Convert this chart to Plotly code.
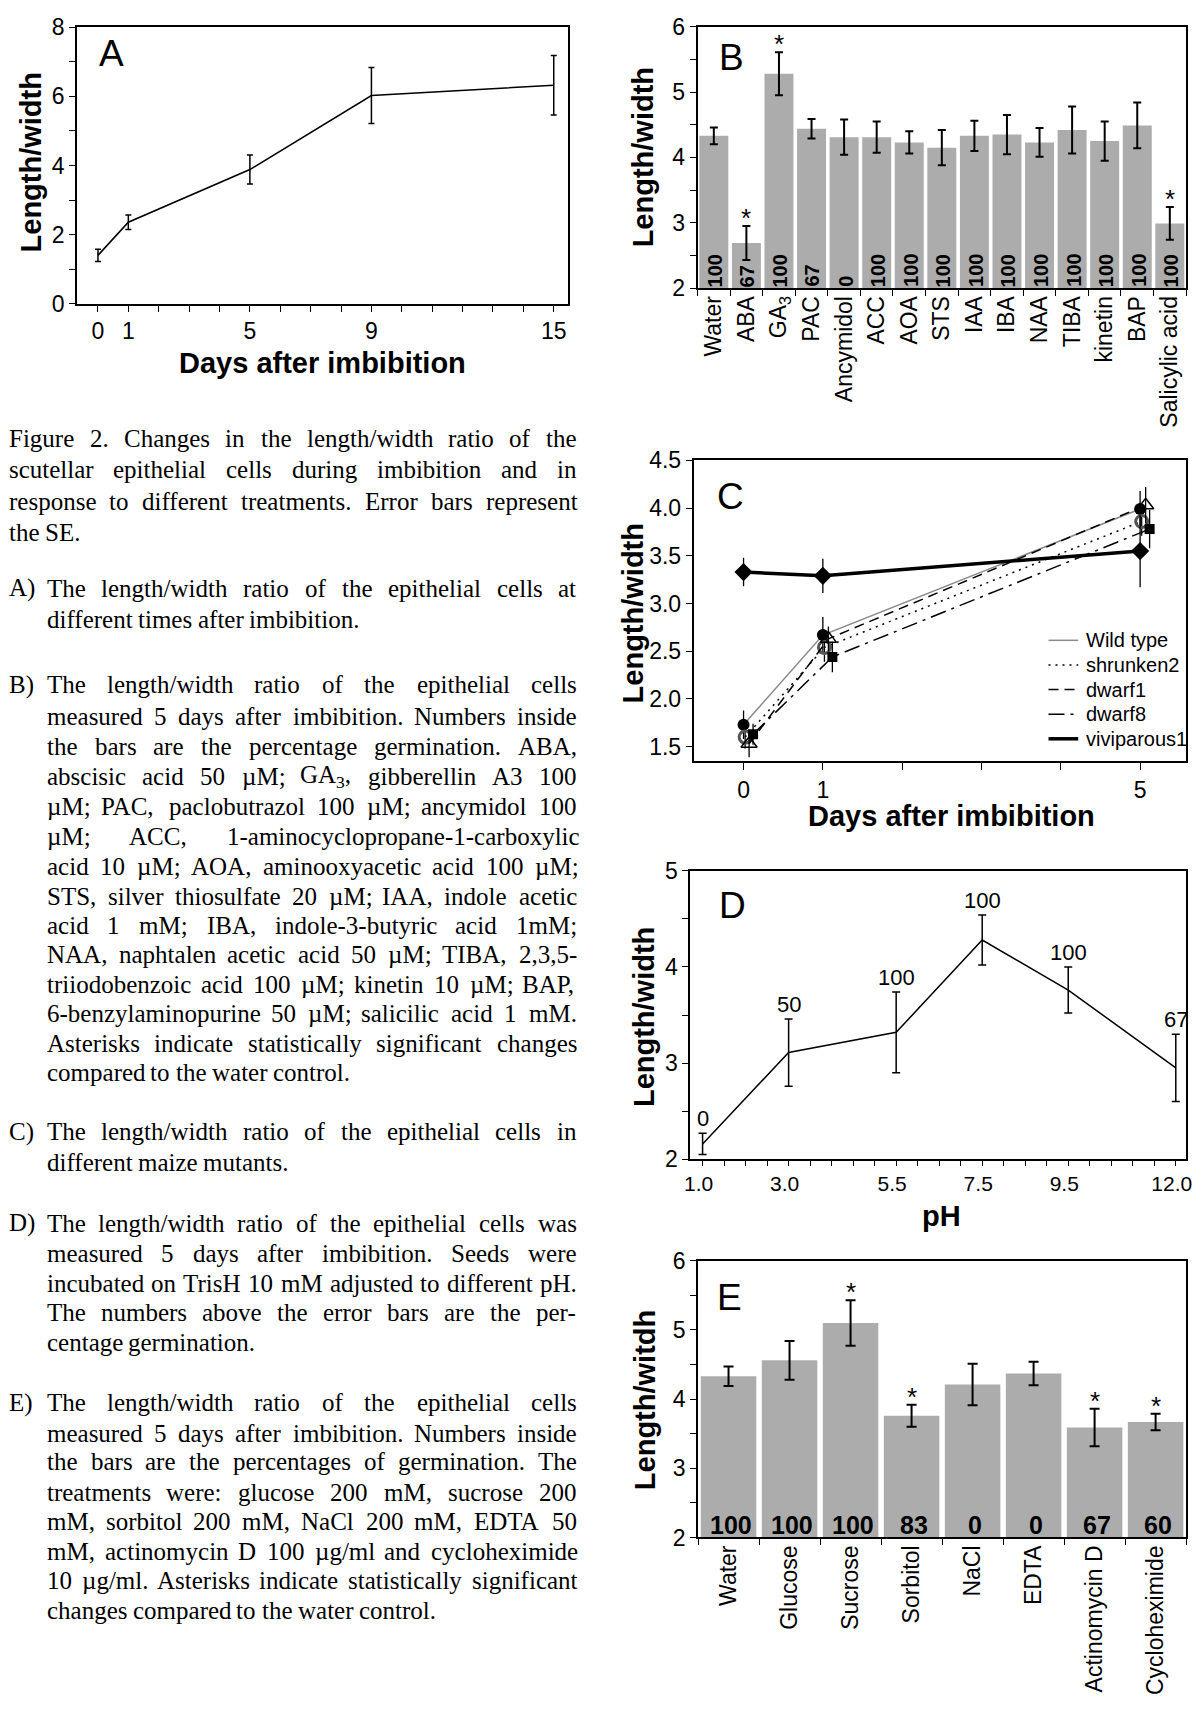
import re
import plotly.graph_objects as go

W, H = 1203, 1711
SANS = "Liberation Sans, Arial, sans-serif"
SERIF = "Liberation Serif, Times New Roman, serif"

# ---------------- Panel A ----------------
a_days = [0, 1, 5, 9, 15]
a_ratio = [1.40, 2.36, 3.88, 6.02, 6.32]
a_se = [0.18, 0.21, 0.42, 0.81, 0.86]
a_xticks = list(range(0, 16))
a_xlabels = ["0", "1", "", "", "", "5", "", "", "", "9", "", "", "", "", "", "15"]
a_yticks = list(range(0, 9))
a_ylabels = ["0", "", "2", "", "4", "", "6", "", "8"]

# ---------------- Panel B ----------------
b_treat = ["Water", "ABA", "GA<sub>3</sub>", "PAC", "Ancymidol", "ACC", "AOA", "STS",
           "IAA", "IBA", "NAA", "TIBA", "kinetin", "BAP", "Salicylic acid"]
b_ratio = [4.33, 2.69, 5.28, 4.44, 4.31, 4.31, 4.23, 4.15, 4.33, 4.35, 4.23, 4.42, 4.25, 4.49, 2.99]
b_se = [0.13, 0.26, 0.33, 0.15, 0.27, 0.24, 0.17, 0.27, 0.23, 0.30, 0.22, 0.36, 0.30, 0.35, 0.25]
b_germ = [100, 67, 100, 67, 0, 100, 100, 100, 100, 100, 100, 100, 100, 100, 100]
b_signif = [False, True, True, False, False, False, False, False,
            False, False, False, False, False, False, True]
b_yticks = [2, 2.5, 3, 3.5, 4, 4.5, 5, 5.5, 6]
b_ylabels = ["2", "", "3", "", "4", "", "5", "", "6"]

# ---------------- Panel C ----------------
c_days = [0, 1, 5]
c_names = ["Wild type", "shrunken2", "dwarf1", "dwarf8", "viviparous1"]
c_wt = [1.73, 2.67, 3.99]
c_wt_se = [0.15, 0.19, 0.19]
c_sh2 = [1.60, 2.54, 3.86]
c_sh2_se = [0.12, 0.15, 0.15]
c_d1 = [1.53, 2.63, 4.03]
c_d1_se = [0.14, 0.13, 0.19]
c_d8 = [1.63, 2.44, 3.78]
c_d8_se = [0.11, 0.16, 0.20]
c_vp1 = [3.33, 3.29, 3.55]
c_vp1_se = [0.15, 0.18, 0.38]
c_xticks = [0, 1, 2, 3, 4, 5]
c_xlabels = ["0", "1", "", "", "", "5"]
c_yticks = [1.5, 2.0, 2.5, 3.0, 3.5, 4.0, 4.5]
c_ylabels = ["1.5", "2.0", "2.5", "3.0", "3.5", "4.0", "4.5"]

# ---------------- Panel D ----------------
d_ph = [1.0, 3.0, 5.5, 7.5, 9.5, 12.0]
d_ratio = [2.16, 3.11, 3.32, 4.28, 3.76, 2.95]
d_se = [0.11, 0.35, 0.42, 0.26, 0.24, 0.35]
d_germ = [0, 50, 100, 100, 100, 67]
d_xticks = [1.0, 1.5, 2.0, 2.5, 3.0, 3.5, 4.0, 4.5, 5.0, 5.5, 6.0, 6.5, 7.0, 7.5, 8.0,
            8.5, 9.0, 9.5, 10.0, 10.5, 11.0, 11.5, 12.0]
d_xlabel_at = {1.0: "1.0", 3.0: "3.0", 5.5: "5.5", 7.5: "7.5", 9.5: "9.5", 12.0: "12.0"}
d_yticks = [2, 2.5, 3, 3.5, 4, 4.5, 5]
d_ylabels = ["2", "", "3", "", "4", "", "5"]

# ---------------- Panel E ----------------
e_treat = ["Water", "Glucose", "Sucrose", "Sorbitol", "NaCl", "EDTA", "Actinomycin D", "Cycloheximide"]
e_ratio = [4.33, 4.56, 5.10, 3.76, 4.21, 4.37, 3.59, 3.67]
e_se = [0.14, 0.28, 0.33, 0.16, 0.30, 0.17, 0.27, 0.12]
e_germ = [100, 100, 100, 83, 0, 0, 67, 60]
e_signif = [False, False, True, True, False, False, True, True]
e_yticks = [2, 2.5, 3, 3.5, 4, 4.5, 5, 5.5, 6]
e_ylabels = ["2", "", "3", "", "4", "", "5", "", "6"]

# ---------------- Caption ----------------
cap_paragraphs = [
    ("", ["Figure 2. Changes in the length/width ratio of the",
          "scutellar epithelial cells during imbibition and in",
          "response to different treatments. Error bars represent",
          "the SE."]),
    ("A)", ["The length/width ratio of the epithelial cells at",
            "different times after imbibition."]),
    ("B)", ["The length/width ratio of the epithelial cells",
            "measured 5 days after imbibition. Numbers inside",
            "the bars are the percentage germination. ABA,",
            "abscisic acid 50 µM; GA<sub>3</sub>, gibberellin A3 100",
            "µM; PAC, paclobutrazol 100 µM; ancymidol 100",
            "µM; ACC, 1-aminocyclopropane-1-carboxylic",
            "acid 10 µM; AOA, aminooxyacetic acid 100 µM;",
            "STS, silver thiosulfate 20 µM; IAA, indole acetic",
            "acid 1 mM; IBA, indole-3-butyric acid 1mM;",
            "NAA, naphtalen acetic acid 50 µM; TIBA, 2,3,5-",
            "triiodobenzoic acid 100 µM; kinetin 10 µM; BAP,",
            "6-benzylaminopurine 50 µM; salicilic acid 1 mM.",
            "Asterisks indicate statistically significant changes",
            "compared to the water control."]),
    ("C)", ["The length/width ratio of the epithelial cells in",
            "different maize mutants."]),
    ("D)", ["The length/width ratio of the epithelial cells was",
            "measured 5 days after imbibition. Seeds were",
            "incubated on TrisH 10 mM adjusted to different pH.",
            "The numbers above the error bars are the per-",
            "centage germination."]),
    ("E)", ["The length/width ratio of the epithelial cells",
            "measured 5 days after imbibition. Numbers inside",
            "the bars are the percentages of germination. The",
            "treatments were: glucose 200 mM, sucrose 200",
            "mM, sorbitol 200 mM, NaCl 200 mM, EDTA 50",
            "mM, actinomycin D 100 µg/ml and cycloheximide",
            "10 µg/ml. Asterisks indicate statistically significant",
            "changes compared to the water control."]),
]
cap_line_y = [432, 464, 496, 528,
              584, 616,
              682, 714, 745, 775, 806, 836, 867, 897, 927, 956, 986, 1016, 1046, 1076,
              1136, 1167,
              1229, 1260, 1290, 1320, 1350,
              1411, 1442, 1471, 1502, 1532, 1562, 1592, 1622]


def px(x):
    return x / W


def py(y):
    return 1 - y / H


TICK_SIZE = 23


def axstyle(**kw):
    base = dict(showline=True, linecolor="black", linewidth=1.6, mirror=True,
                ticks="outside", ticklen=6, tickwidth=1.4, tickcolor="black",
                showgrid=False, zeroline=False, fixedrange=True,
                tickfont=dict(family=SANS, size=TICK_SIZE, color="black"))
    base.update(kw)
    return base


fig = go.Figure()

# A
fig.add_trace(go.Scatter(
    x=a_days, y=a_ratio, mode="lines", line=dict(color="black", width=1.6),
    error_y=dict(type="data", array=a_se, color="black", thickness=1.5, width=3),
    xaxis="x", yaxis="y", showlegend=False))

# B
fig.add_trace(go.Bar(
    x=list(range(len(b_treat))), y=b_ratio, width=0.89,
    marker=dict(color="#acacac", line=dict(width=0)),
    error_y=dict(type="data", array=b_se, color="black", thickness=2, width=4),
    xaxis="x2", yaxis="y2", showlegend=False))

# C
c_series = [
    (c_names[0], c_wt, c_wt_se, 0.0, dict(color="#8a8a8a", width=1.5),
     dict(symbol="circle", size=12, color="black")),
    (c_names[1], c_sh2, c_sh2_se, 0.02, dict(color="black", width=1.5, dash="2px,5px"),
     dict(symbol="circle-open", size=12, color="#555555", line=dict(width=3, color="#555555"))),
    (c_names[2], c_d1, c_d1_se, 0.07, dict(color="black", width=1.5, dash="10px,6px"),
     dict(symbol="triangle-up-open", size=14, color="black", line=dict(width=1.5, color="black"))),
    (c_names[3], c_d8, c_d8_se, 0.12, dict(color="black", width=1.5, dash="16px,6px,3px,6px"),
     dict(symbol="square", size=10, color="black")),
    (c_names[4], c_vp1, c_vp1_se, 0.0, dict(color="black", width=3.5),
     dict(symbol="diamond", size=14, color="black")),
]
for name, vals, se, off, line, marker in c_series:
    fig.add_trace(go.Scatter(
        x=[d + off for d in c_days], y=vals, mode="lines+markers", line=line, marker=marker,
        error_y=dict(type="data", array=se, color="black", thickness=1.3, width=0),
        xaxis="x3", yaxis="y3", showlegend=False, name=name))

# D
fig.add_trace(go.Scatter(
    x=d_ph, y=d_ratio, mode="lines", line=dict(color="black", width=1.5),
    error_y=dict(type="data", array=d_se, color="black", thickness=1.5, width=4),
    xaxis="x4", yaxis="y4", showlegend=False))

# E
fig.add_trace(go.Bar(
    x=list(range(len(e_treat))), y=e_ratio, width=0.91,
    marker=dict(color="#acacac", line=dict(width=0)),
    error_y=dict(type="data", array=e_se, color="black", thickness=2, width=5),
    xaxis="x5", yaxis="y5", showlegend=False))

ann = []
shapes = []

# B annotations
for i, g in enumerate(b_germ):
    ann.append(dict(x=i, y=2, xref="x2", yref="y2", text=str(g), textangle=-90,
                    showarrow=False, yanchor="bottom", xanchor="center", yshift=1, xshift=1,
                    borderpad=0, borderwidth=0,
                    font=dict(family=SANS, size=20, color="black", weight="bold")))
for i, s in enumerate(b_signif):
    if s:
        ann.append(dict(x=i, y=b_ratio[i] + b_se[i], xref="x2", yref="y2", text="*",
                        showarrow=False, yanchor="bottom", yshift=-9,
                        font=dict(family=SANS, size=26, color="black")))

# D annotations
for x, y, s, g in zip(d_ph, d_ratio, d_se, d_germ):
    ann.append(dict(x=x, y=y + s, xref="x4", yref="y4", text=str(g), showarrow=False,
                    yanchor="bottom", yshift=0,
                    font=dict(family=SANS, size=22, color="black")))

# E annotations
for i, g in enumerate(e_germ):
    ann.append(dict(x=i, y=2.18, xref="x5", yref="y5", text=str(g), showarrow=False,
                    yanchor="middle", xshift=2,
                    font=dict(family=SANS, size=25, color="black", weight="bold")))
for i, s in enumerate(e_signif):
    if s:
        ann.append(dict(x=i, y=e_ratio[i] + e_se[i], xref="x5", yref="y5", text="*",
                        showarrow=False, yanchor="bottom", yshift=-9,
                        font=dict(family=SANS, size=26, color="black")))

# manual legend for panel C (lines only, as in the original)
leg_rows = [637, 662, 687, 712, 737]
for (name, vals, se, off, line, marker), ly in zip(c_series, leg_rows):
    shapes.append(dict(type="line", xref="paper", yref="paper",
                       x0=px(1053), x1=px(1083), y0=py(ly), y1=py(ly),
                       line=dict(color=line["color"], width=line["width"],
                                 dash=line.get("dash", "solid"))))
    ann.append(dict(x=px(1091), y=py(ly), xref="paper", yref="paper", text=name,
                    showarrow=False, xanchor="left", yanchor="middle",
                    borderpad=0, borderwidth=0,
                    font=dict(family=SANS, size=20, color="black")))

# panel letters
for letter, (lx, ly) in {"A": (107, 41), "B": (733, 45), "C": (732, 491),
                         "D": (734, 906), "E": (731, 1304)}.items():
    ann.append(dict(x=px(lx), y=py(ly), xref="paper", yref="paper", text=letter,
                    showarrow=False, xanchor="center", yanchor="middle",
                    font=dict(family=SANS, size=37, color="black")))


def title(txt, x, y, angle=0):
    ann.append(dict(x=px(x), y=py(y), xref="paper", yref="paper", text=txt,
                    showarrow=False, xanchor="center", yanchor="middle", textangle=angle,
                    font=dict(family=SANS, size=29, color="black", weight="bold")))


title("Length/width", 25, 152, -90)
title("Days after imbibition", 320, 355)
title("Length/width", 643, 147, -90)
title("Length/width", 633, 610, -90)
title("Days after imbibition", 955, 815)
title("Length/width", 644, 1020, -90)
title("pH", 945, 1222)
title("Length/witdh", 645, 1409, -90)

# caption with justified lines (Times metrics)
TW = {' ': 250, '.': 250, ',': 250, ':': 278, ';': 278, '-': 333, '/': 278, '(': 333, ')': 333,
      'µ': 500,
      'a': 444, 'b': 500, 'c': 444, 'd': 500, 'e': 444, 'f': 333, 'g': 500, 'h': 500, 'i': 278,
      'j': 278, 'k': 500, 'l': 278, 'm': 778, 'n': 500, 'o': 500, 'p': 500, 'q': 500, 'r': 333,
      's': 389, 't': 278, 'u': 500, 'v': 500, 'w': 722, 'x': 500, 'y': 500, 'z': 444,
      'A': 722, 'B': 667, 'C': 667, 'D': 722, 'E': 611, 'F': 556, 'G': 722, 'H': 722, 'I': 333,
      'J': 389, 'K': 722, 'L': 611, 'M': 889, 'N': 722, 'O': 722, 'P': 556, 'Q': 722, 'R': 667,
      'S': 556, 'T': 611, 'U': 722, 'V': 722, 'W': 944, 'X': 722, 'Y': 722, 'Z': 611}
CAP_SIZE = 25


def wwidth(word):
    total = 0.0
    for part in re.split(r"(<sub>.*?</sub>)", word):
        if part.startswith("<sub>"):
            total += 0.7 * sum(TW.get(c, 500) for c in part[5:-6])
        else:
            total += sum(TW.get(c, 500) for c in part)
    return total * CAP_SIZE / 1000.0


CAP_LEFT, CAP_INDENT, CAP_RIGHT = 3, 41, 576
li = 0
for label, lines in cap_paragraphs:
    for k, line in enumerate(lines):
        yc = cap_line_y[li]
        li += 1
        x0 = CAP_INDENT if label else CAP_LEFT
        if label and k == 0:
            ann.append(dict(x=px(CAP_LEFT), y=py(yc), xref="paper", yref="paper", text=label,
                            showarrow=False, xanchor="left", yanchor="middle",
                            borderpad=0, borderwidth=0,
                            font=dict(family=SERIF, size=CAP_SIZE, color="black")))
        words = line.split()
        widths = [wwidth(w) for w in words]
        last = (k == len(lines) - 1)
        if not last and len(words) > 1:
            gap = (CAP_RIGHT - x0 - sum(widths)) / (len(words) - 1)
        else:
            gap = TW[' '] * CAP_SIZE / 1000.0
        x = x0
        for w, wd in zip(words, widths):
            ann.append(dict(x=px(x), y=py(yc), xref="paper", yref="paper", text=w,
                            showarrow=False, xanchor="left", yanchor="middle",
                            borderpad=0, borderwidth=0,
                            font=dict(family=SERIF, size=CAP_SIZE, color="black")))
            x += wd + gap

boundary_minor = dict(ticks="outside", ticklen=6, tickwidth=1.4, tickcolor="black")

fig.update_layout(
    width=W, height=H, margin=dict(l=0, r=0, t=0, b=0),
    paper_bgcolor="white", plot_bgcolor="white",
    showlegend=False,
    annotations=ann, shapes=shapes,
    xaxis=axstyle(domain=[px(71.7), px(568)], anchor="y", range=[-0.69, 15.48],
                  tickmode="array", tickvals=a_xticks, ticktext=a_xlabels),
    yaxis=axstyle(domain=[py(295.3), py(14.3)], anchor="x", range=[0, 8],
                  tickmode="array", tickvals=a_yticks, ticktext=a_ylabels),
    xaxis2=axstyle(domain=[px(698.5), px(1192)], anchor="y2", range=[-0.5, 14.5],
                   tickmode="array", tickvals=list(range(len(b_treat))), ticktext=b_treat,
                   tickangle=-90, ticks="", ticklabelstandoff=-3,
                   minor=dict(tickmode="array",
                              tickvals=[i - 0.5 for i in range(len(b_treat) + 1)],
                              **boundary_minor)),
    yaxis2=axstyle(domain=[py(279.3), py(14)], anchor="x2", range=[2, 6],
                   tickmode="array", tickvals=b_yticks, ticktext=b_ylabels),
    xaxis3=axstyle(domain=[px(694.5), px(1192)], anchor="y3", range=[-0.63, 5.58],
                   tickmode="array", tickvals=c_xticks, ticktext=c_xlabels, ticklen=7),
    yaxis3=axstyle(domain=[py(760), py(454.3)], anchor="x3", range=[1.345, 4.5],
                   tickmode="array", tickvals=c_yticks, ticktext=c_ylabels),
    xaxis4=axstyle(domain=[px(691), px(1192)], anchor="y4", range=[0.71, 12.24],
                   tickmode="array", tickvals=d_xticks,
                   ticktext=[d_xlabel_at.get(t, "") for t in d_xticks], ticklen=5,
                   ticklabelshift=-4,
                   tickfont=dict(family=SANS, size=21, color="black")),
    yaxis4=axstyle(domain=[py(1164), py(871)], anchor="x4", range=[2, 5],
                   tickmode="array", tickvals=d_yticks, ticktext=d_ylabels),
    xaxis5=axstyle(domain=[px(699), px(1192)], anchor="y5", range=[-0.5, 7.5],
                   tickmode="array", tickvals=list(range(len(e_treat))), ticktext=e_treat,
                   tickangle=-90, ticks="", ticklabelstandoff=-3,
                   tickfont=dict(family=SANS, size=23, color="black"),
                   minor=dict(tickmode="array",
                              tickvals=[i - 0.5 for i in range(len(e_treat) + 1)],
                              **boundary_minor)),
    yaxis5=axstyle(domain=[py(1548), py(1267)], anchor="x5", range=[2, 6],
                   tickmode="array", tickvals=e_yticks, ticktext=e_ylabels),
)

fig.write_html("out.html", config={"displayModeBar": False},
               post_script="document.body.style.margin='0px';")
